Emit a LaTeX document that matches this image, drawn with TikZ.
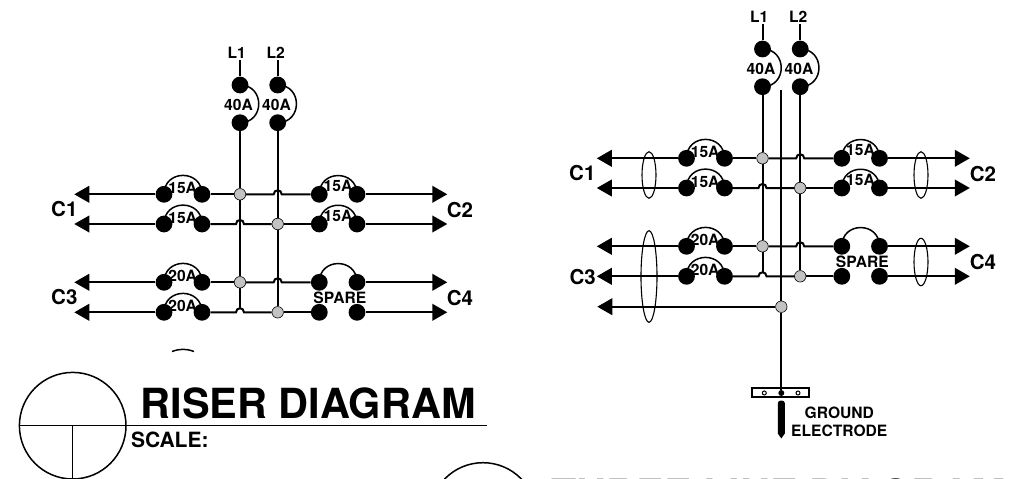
\documentclass[tikz,border=0pt]{standalone}
\usepackage{fontspec}
\setmainfont{TeX Gyre Heros}
\usetikzlibrary{arrows.meta,shapes.geometric}
\tikzset{
  wire/.style={line width=2pt,line cap=butt},
  arrowwire/.style={wire,-{Triangle[length=15pt,width=16.6pt]},shorten >=0pt},
  dotn/.style={circle,fill=black,draw=none,minimum size=16.8pt,inner sep=0pt},
  junc/.style={circle,fill=black!24,draw=black,line width=0.6pt,minimum size=11.5pt,inner sep=0pt},
  lab/.style={font=\fontsize{15.6pt}{16pt}\selectfont\bfseries,inner sep=0pt},
  big/.style={font=\fontsize{20.5pt}{21pt}\selectfont\bfseries,inner sep=0pt},
  title/.style={font=\fontsize{41.5pt}{42pt}\selectfont\bfseries,inner sep=0pt,anchor=base west},
  sleeve/.style={ellipse,draw=black,line width=1.1pt,inner sep=0pt,minimum width=14pt},
  thin line/.style={line width=1.5pt},
  hopp/.style={out=90,in=90,looseness=1.7},
  arcv/.style={out=0,in=0,looseness=1.7},
  arch/.style={out=90,in=90,looseness=1.7}
}
% #1 prefix
\newcommand\riserset[1]{%
  \foreach \n/\x/\y in {a/240/85,b/277.7/85,c/240/122.7,d/277.7/122.7,
    r1a/164/194.3,r1b/202/194.3,r1c/319.3/194.3,r1d/357/194.3,
    r2a/164/224,r2b/202/224,r2c/319.3/224,r2d/357/224,
    r3a/164/282.3,r3b/202/282.3,r3c/319.3/282.3,r3d/357/282.3,
    r4a/164/312.3,r4b/202/312.3,r4c/319.3/312.3,r4d/357/312.3}
    {\node[dotn] (#1\n) at (\x,\y) {};}
  \node[junc] (#1j1) at (240,194.3) {};
  \node[junc] (#1j2) at (277.7,224) {};
  \node[junc] (#1j3) at (240,282.3) {};
  \node[junc] (#1j4) at (277.7,312.3) {};
  \coordinate (#1t1) at (240,60);
  \coordinate (#1t2) at (277.7,60);
  \coordinate (#1v1) at (240,308.5);
  \foreach \r/\y in {1/194.3,2/224,3/282.3,4/312.3}{
    \coordinate (#1al\r) at (74.3,\y);
    \coordinate (#1ar\r) at (447.3,\y);
    \draw[arrowwire] (#1r\r a) -- (#1al\r);
    \draw[arrowwire] (#1r\r d) -- (#1ar\r);
  }
  \foreach \r/\y in {1/194.3,3/282.3}{
    \coordinate (#1h\r l) at (273.7,\y);
    \coordinate (#1h\r r) at (281.7,\y);
    \draw[wire] (#1r\r b) -- (#1j\ifnum\r=1 1\else 3\fi);
    \draw[wire] (#1j\ifnum\r=1 1\else 3\fi) -- (#1h\r l) to[hopp] (#1h\r r) -- (#1r\r c);
  }
  \foreach \r/\y in {2/224,4/312.3}{
    \coordinate (#1h\r l) at (236,\y);
    \coordinate (#1h\r r) at (244,\y);
    \draw[wire] (#1r\r b) -- (#1h\r l) to[hopp] (#1h\r r) -- (#1j\ifnum\r=2 2\else 4\fi);
    \draw[wire] (#1j\ifnum\r=2 2\else 4\fi) -- (#1r\r c);
  }
  \draw[wire] (#1t1) -- (#1a);
  \draw[wire] (#1t2) -- (#1b);
  \draw[wire] (#1c) -- (#1j1);
  \draw[wire] (#1j1) -- (#1j3);
  \draw[wire] (#1j3) -- (#1v1);
  \draw[wire] (#1d) -- (#1j2);
  \draw[wire] (#1j2) -- (#1j4);
  \draw[thin line] (#1a.center) to[arcv] (#1c.center);
  \draw[thin line] (#1b.center) to[arcv] (#1d.center);
  \foreach \r in {1,2,3,4}{
    \draw[thin line] (#1r\r a.center) to[arch] (#1r\r b.center);
  }
  \foreach \r in {1,2,3}{
    \draw[thin line] (#1r\r c.center) to[arch] (#1r\r d.center);
  }
  \node[lab] (#1la) at (236.7,52.7) {L1};
  \node[lab] (#1lb) at (275.7,52.7) {L2};
  \node[lab] (#1ka) at (238.5,104.7) {40A};
  \node[lab] (#1kb) at (276.5,104.7) {40A};
  \node[lab] (#1s1) at (182.7,187.7) {15A};
  \node[lab] (#1s2) at (182.7,217.5) {15A};
  \node[lab] (#1s3) at (182.7,275.9) {20A};
  \node[lab] (#1s4) at (182.7,305.9) {20A};
  \node[lab] (#1s5) at (338,185.8) {15A};
  \node[lab] (#1s6) at (338,215.6) {15A};
  \node[lab] (#1s7) at (339.8,297.8) {SPARE};
}
\begin{document}
\begin{tikzpicture}[x=1pt,y=-1pt]
\useasboundingbox (0,0) rectangle (1023,479);
\clip (0,0) rectangle (1023,479);
% left riser
\riserset{A}
\node[big] (Ac1) at (64.3,209) {C1};
\node[big] (Ac2) at (460,210) {C2};
\node[big] (Ac3) at (64.3,297.3) {C3};
\node[big] (Ac4) at (460,298) {C4};
% right three-line
\begin{scope}[shift={(522.5,-36)}]
\riserset{B}
\end{scope}
\node[big] (Bc1) at (582.3,173.3) {C1};
\node[big] (Bc2) at (983,174) {C2};
\node[big] (Bc3) at (582.7,276.7) {C3};
\node[big] (Bc4) at (983,261.7) {C4};
\node[sleeve,minimum height=46.6pt] (e1) at (649,175) {};
\node[sleeve,minimum height=46.6pt] (e2) at (921,175) {};
\node[sleeve,minimum width=16pt,minimum height=91.6pt] (e3) at (649,276.5) {};
\node[sleeve,minimum height=47.4pt] (e4) at (921,262) {};
% ground
\node[junc] (gj) at (781.3,306.7) {};
\coordinate (gt) at (781.3,90);
\coordinate (gl) at (597.3,306.7);
\draw[wire] (gt) -- (gj);
\draw[arrowwire] (gj) -- (gl);
\node[draw=black,line width=2pt,fill=white,minimum width=57pt,minimum height=9pt,inner sep=0pt] (bar) at (780.2,392.7) {};
\node[circle,draw=black,line width=1pt,fill=white,minimum size=4pt,inner sep=0pt] (h1) at (764.3,393) {};
\node[circle,draw=none,fill=black,minimum size=6pt,inner sep=0pt] (h2) at (781.3,393) {};
\node[circle,draw=black,line width=1pt,fill=white,minimum size=4pt,inner sep=0pt] (h3) at (798,393) {};
\draw[wire] (gj) -- (h2);
\fill (777.8,403) to[out=90,in=180] (781.3,400.5) to[out=0,in=90] (784.8,403) -- (784.8,433.5) -- (781.3,438.5) -- (777.8,433.5) -- cycle;
\node[lab] (g1) at (839.3,412.7) {GROUND};
\node[lab] (g2) at (839.3,430.5) {ELECTRODE};
% title blocks
\coordinate (sa) at (172,351.5);
\coordinate (sb) at (194,351.5);
\draw[thin line] (sa) to[out=20,in=160] (sb);
\node[circle,draw=black,thin line,minimum size=106.6pt,inner sep=0pt] (c1) at (72.7,425.7) {};
\coordinate (ln) at (486.7,425.7);
\draw[line width=1.5pt] (c1.west) -- (ln);
\draw[line width=1.5pt] (c1.center) -- (c1.south);
\node[title] (t1) at (140.3,418) {RISER DIAGRAM};
\node[inner sep=0pt,anchor=base west,font=\fontsize{21pt}{22pt}\selectfont\bfseries] (t2) at (130.8,447.7) {SCALE:};
\node[circle,draw=black,thin line,minimum size=106.6pt,inner sep=0pt] (c2) at (483,516) {};
\node[title] (t3) at (551,509.6) {THREE LINE DIAGRAM};
\end{tikzpicture}
\end{document}
